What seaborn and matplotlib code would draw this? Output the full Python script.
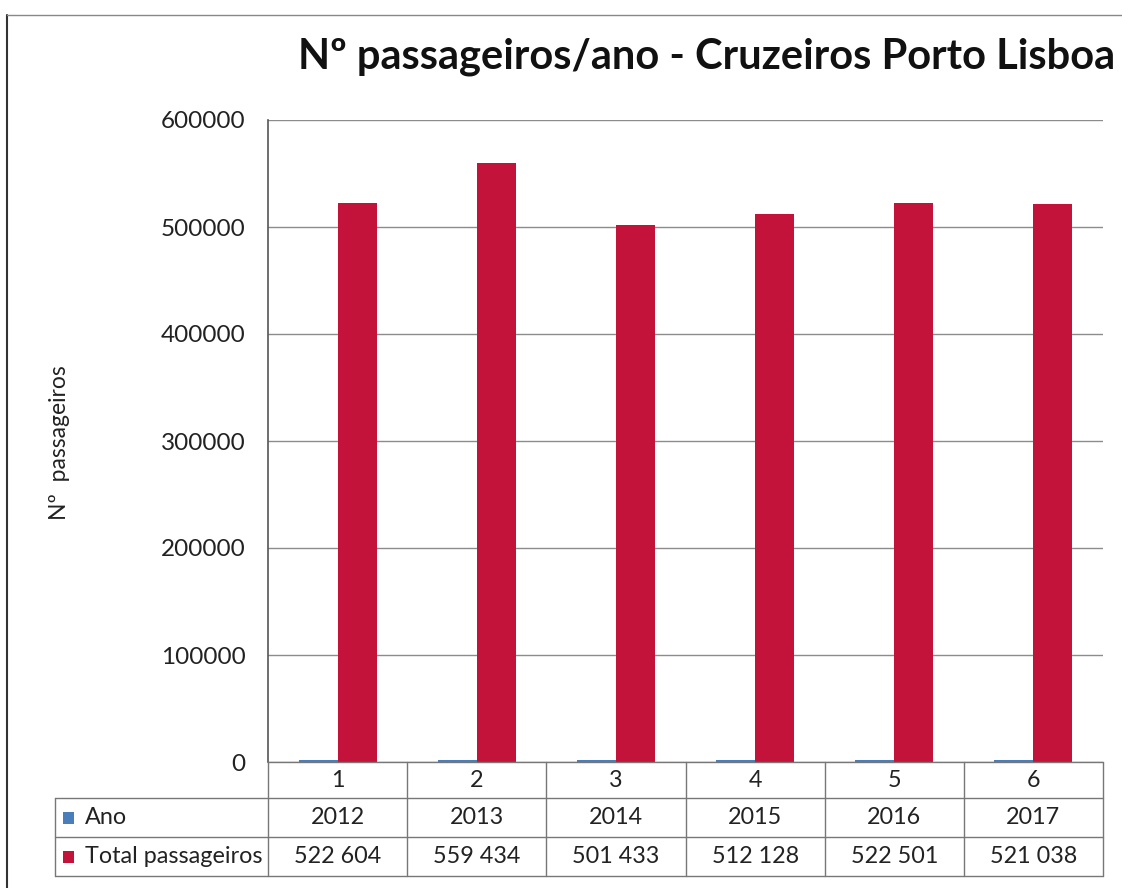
import matplotlib
matplotlib.use("Agg")
import matplotlib.pyplot as plt
import seaborn as sns
import pandas as pd
from matplotlib.lines import Line2D
from matplotlib.patches import Rectangle

# ---- data ----
categories = ["1", "2", "3", "4", "5", "6"]
ano = [2012, 2013, 2014, 2015, 2016, 2017]
total_passageiros = [522604, 559434, 501433, 512128, 522501, 521038]
total_labels = ["522 604", "559 434", "501 433", "512 128", "522 501", "521 038"]
series_names = ["Ano", "Total passageiros"]
yticks = [0, 100000, 200000, 300000, 400000, 500000, 600000]
title = "Nº passageiros/ano - Cruzeiros Porto Lisboa"
ylabel = "Nº  passageiros"

colors = {"Ano": "#4A7EBB", "Total passageiros": "#C3133A"}

df = pd.DataFrame({
    "cat": categories * 2,
    "serie": [series_names[0]] * len(categories) + [series_names[1]] * len(categories),
    "valor": ano + total_passageiros,
})

sns.set_style("white")
plt.rcParams["font.family"] = ["Lato", "DejaVu Sans"]

W, H = 1122, 888
fig = plt.figure(figsize=(W / 100, H / 100), dpi=100)
fig.patch.set_facecolor("white")

def fx(px):
    return px / W

def fy(py):
    return 1 - py / H

ax_l, ax_r, ax_t, ax_b = 268, 1103, 120, 762
ax = fig.add_axes([fx(ax_l), fy(ax_b), fx(ax_r - ax_l), (ax_b - ax_t) / H])

sns.barplot(data=df, x="cat", y="valor", hue="serie", order=categories,
            hue_order=series_names, palette=colors, width=0.56, dodge=True,
            saturation=1, ax=ax, legend=False, edgecolor="none")

ax.set_ylim(0, 600000)
ax.set_xlim(-0.5, len(categories) - 0.5)
ax.set_yticks(yticks)
ax.set_yticklabels([str(v) for v in yticks], fontsize=17.5, color="#222222")
ax.tick_params(axis="y", length=0, pad=16)
ax.set_xticks([])
ax.set_xlabel("")
ax.set_ylabel("")
ax.yaxis.grid(True, color="#8c8c8c", linewidth=1.0)
ax.set_axisbelow(True)
for s in ["top", "right", "bottom"]:
    ax.spines[s].set_visible(False)
ax.spines["left"].set_color("#555555")
ax.spines["left"].set_linewidth(1.2)

# y label
fig.text(fx(60), fy(443), ylabel, rotation=90, ha="center", va="center",
         fontsize=16.5, color="#222222")

# title
fig.text(fx(707), fy(57), title, ha="center", va="center", fontsize=30,
         fontweight="bold", color="#111111")

# ---- data table ----
line_kw = dict(color="#777777", linewidth=1.0, transform=fig.transFigure)
tab_left = 55
row_y = [762, 798, 837, 876]
n = len(categories)
col_w = (ax_r - ax_l) / n
col_x = [ax_l + i * col_w for i in range(n + 1)]

# horizontal lines
fig.add_artist(Line2D([fx(ax_l), fx(ax_r)], [fy(row_y[0])] * 2, **line_kw))
for yy in row_y[1:]:
    fig.add_artist(Line2D([fx(tab_left), fx(ax_r)], [fy(yy)] * 2, **line_kw))
# vertical lines
for xx in col_x:
    fig.add_artist(Line2D([fx(xx)] * 2, [fy(row_y[0]), fy(row_y[3])], **line_kw))
fig.add_artist(Line2D([fx(tab_left)] * 2, [fy(row_y[1]), fy(row_y[3])], **line_kw))

tfs = 16.8
for i in range(n):
    cx = (col_x[i] + col_x[i + 1]) / 2
    fig.text(fx(cx), fy((row_y[0] + row_y[1]) / 2), categories[i], ha="center",
             va="center", fontsize=tfs, color="#222222")
    fig.text(fx(cx), fy((row_y[1] + row_y[2]) / 2), str(ano[i]), ha="center",
             va="center", fontsize=tfs, color="#222222")
    fig.text(fx(cx), fy((row_y[2] + row_y[3]) / 2), total_labels[i], ha="center",
             va="center", fontsize=tfs, color="#222222")

# legend keys in table
for r, name in enumerate(series_names):
    yc = (row_y[r + 1] + row_y[r + 2]) / 2
    fig.add_artist(Rectangle((fx(63), fy(yc + 6)), fx(11), 12 / H,
                             transform=fig.transFigure, facecolor=colors[name],
                             edgecolor="none"))
    fig.text(fx(85), fy(yc), name, ha="left", va="center", fontsize=tfs,
             color="#222222")

# outer chart border (left and top)
border_kw = dict(color="#333333", linewidth=1.5, transform=fig.transFigure)
fig.add_artist(Line2D([fx(7), fx(7)], [fy(15), fy(H + 5)], **border_kw))
fig.add_artist(Line2D([fx(7), fx(W + 5)], [fy(15), fy(15)],
                      **dict(border_kw, color="#888888", linewidth=1.0)))

fig.savefig("out.png", dpi=100, facecolor="white")
